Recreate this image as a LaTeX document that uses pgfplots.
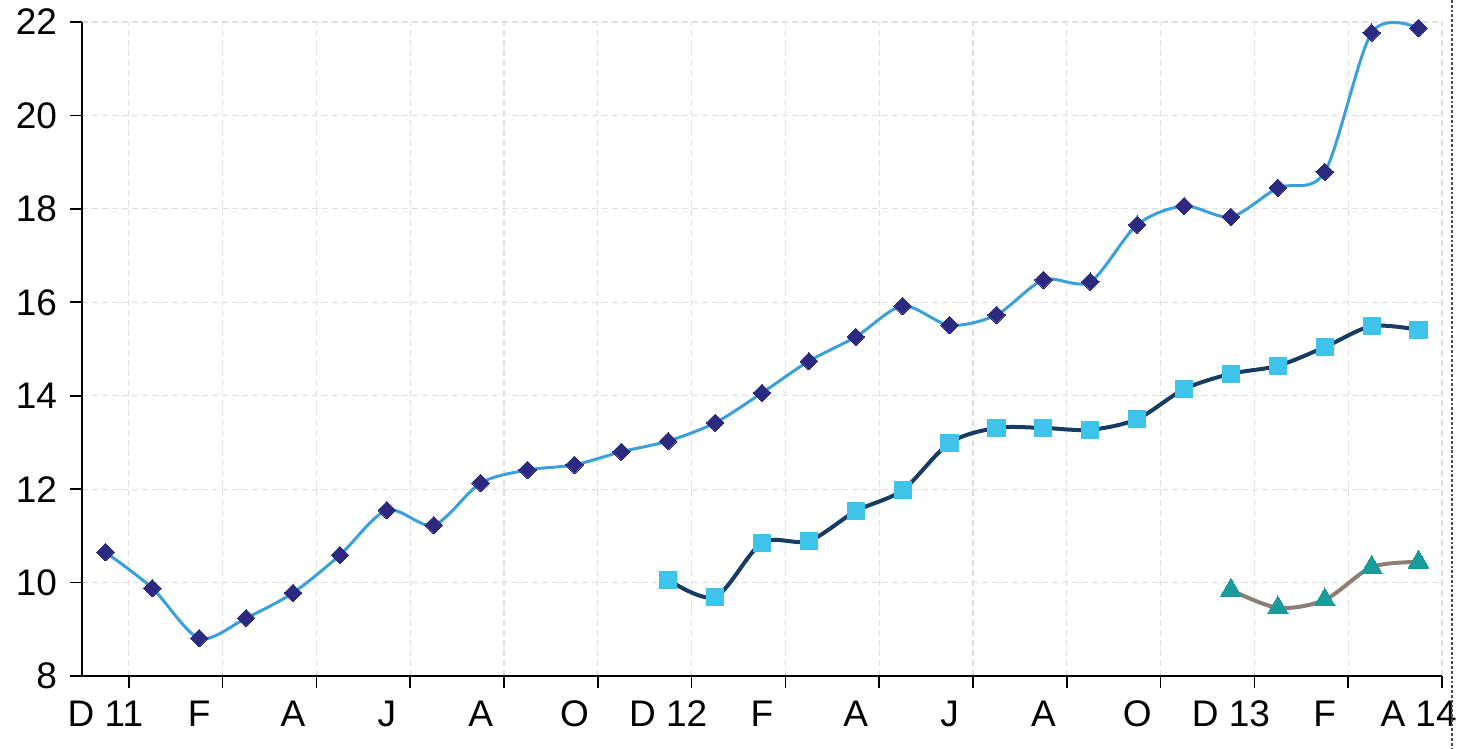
\documentclass[border=0pt]{standalone}
\usepackage{fontspec}
\setmainfont{Liberation Sans}
\usepackage{pgfplots}
\pgfplotsset{compat=1.18}
\definecolor{lineA}{RGB}{58,160,220}
\definecolor{markA}{RGB}{43,42,128}
\definecolor{lineB}{RGB}{22,60,100}
\definecolor{markB}{RGB}{62,195,235}
\definecolor{lineC}{RGB}{140,126,116}
\definecolor{markC}{RGB}{26,154,154}
\definecolor{gridc}{RGB}{222,222,222}
\begin{document}
\begin{tikzpicture}
\begin{axis}[
  scale only axis,
  width=680bp, height=327bp,
  xmin=-0.5, xmax=28.5,
  ymin=8, ymax=22,
  ytick={8,10,...,22},
  xtick={0.5,2.5,...,28.5},
  xticklabels={},
  extra x ticks={0,2,...,28},
  extra x tick labels={D 11,F,A,J,A,O,D 12,F,A,J,A,O,D 13,F,A 14},
  extra x tick style={major tick length=0pt, grid=none},
  axis x line*=bottom, axis y line*=left,
  axis line style={-, black, line width=0.8bp},
  tick align=outside,
  major tick length=6bp,
  tick style={black, line width=0.8bp},
  grid=major,
  major grid style={gridc, dash pattern=on 3bp off 2bp, line width=0.6bp},
  /pgf/number format/assume math mode=true,
  tick label style={font=\fontsize{18.5bp}{22bp}\selectfont},
  yticklabel style={xshift=-3bp},
  xticklabel style={yshift=-9bp},
  clip=false,
]
\coordinate (SW) at (rel axis cs:0,0);
\coordinate (NE) at (rel axis cs:1,1);
\addplot[smooth, color=lineA, line width=1.5bp, mark=square*, mark size=3.1bp,
  mark options={fill=markA, draw=markA, line width=0pt, rotate=45}] coordinates {
(0,10.65)(1,9.88)(2,8.81)(3,9.24)(4,9.78)(5,10.59)(6,11.55)(7,11.23)(8,12.13)(9,12.41)
(10,12.52)(11,12.80)(12,13.03)(13,13.42)(14,14.06)(15,14.74)(16,15.26)(17,15.92)(18,15.51)
(19,15.73)(20,16.48)(21,16.44)(22,17.66)(23,18.06)(24,17.83)(25,18.45)(26,18.79)(27,21.77)(28,21.87)};
\addplot[smooth, color=lineB, line width=2bp, mark=square*, mark size=4.3bp,
  mark options={fill=markB, draw=markB, line width=0pt}] coordinates {
(12,10.06)(13,9.69)(14,10.85)(15,10.89)(16,11.53)(17,11.98)(18,12.99)(19,13.31)(20,13.31)
(21,13.27)(22,13.50)(23,14.14)(24,14.47)(25,14.64)(26,15.04)(27,15.49)(28,15.41)};
\addplot[smooth, color=lineC, line width=2bp, mark=triangle*, mark size=6bp,
  mark options={fill=markC, draw=markC, line width=0pt}] coordinates {
(24,9.84)(25,9.46)(26,9.63)(27,10.33)(28,10.44)};
\end{axis}
\draw[densely dotted, line width=1.4bp, black!70] ([shift={(5bp,11bp)}]NE) -- ([shift={(5bp,0pt)}]NE |- SW) -- ++(0,-36.5bp);
\pgfresetboundingbox
\useasboundingbox ([shift={(-41bp,-36.5bp)}]SW) rectangle ([shift={(15bp,11bp)}]NE);
\end{tikzpicture}
\end{document}
